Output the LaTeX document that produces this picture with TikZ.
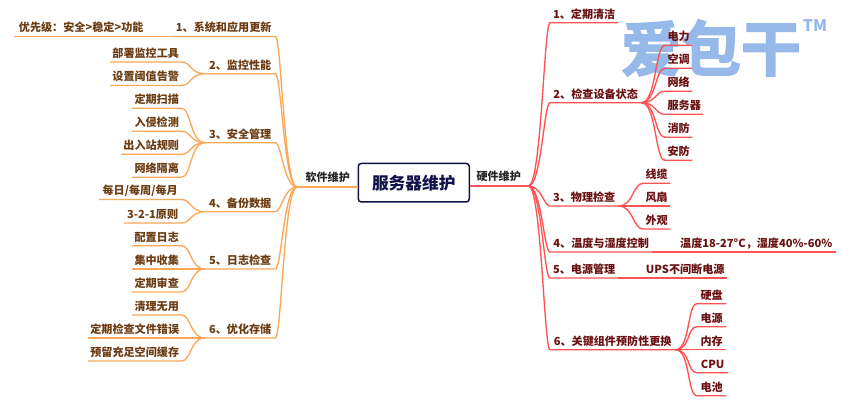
\documentclass[tikz,border=0pt]{standalone}
\usepackage{fontspec}
\setmainfont{Noto Sans CJK SC}
\newfontfamily\logofont[FakeBold=2.5]{Noto Sans CJK SC Bold}
\definecolor{orangeline}{HTML}{F9A858}
\definecolor{redline}{HTML}{FF5252}
\definecolor{browntext}{HTML}{6B3C12}
\definecolor{redtext}{HTML}{6A1010}
\definecolor{navy}{HTML}{10124A}
\definecolor{logoblue}{HTML}{97B9EA}
\tikzset{
  item/.style={inner sep=0pt,anchor=south west,minimum height=19pt,text height=11.5pt,text depth=1.5pt,font=\fontsize{11.1pt}{12pt}\selectfont\bfseries},
  softitem/.style={item,text=browntext},
  harditem/.style={item,text=redtext},
  mainitem/.style={item,text=black!85,minimum height=21pt},
  softline/.style={draw=orangeline,line width=1.35pt,line join=round},
  hardline/.style={draw=redline,line width=1.35pt,line join=round},
  rootbox/.style={draw=navy,line width=1.5pt,rounded corners=3pt,fill=white,text=navy,inner sep=0pt,
    minimum width=111pt,minimum height=38.5pt,font=\fontsize{16.7pt}{18pt}\selectfont\bfseries},
  logo/.style={text=logoblue,inner sep=0pt}
}
\newcommand{\itm}[6][softitem]{\node[#1,minimum width={(#4-#3)*1pt}] (#2) at (#3,#5) {#6};}
\newcommand{\softleaves}[2]{\foreach \c in {#2} \draw[softline] (#1.south west) .. controls +(-15,0) and +(10,0) .. (\c.south east) -- (\c.south west);}
\newcommand{\hardleaves}[2]{\foreach \c in {#2} \draw[hardline] (#1.south east) .. controls +(15,0) and +(-10,0) .. (\c.south west) -- (\c.south east);}
\begin{document}
\begin{tikzpicture}[x=1pt,y=-1pt]
\useasboundingbox (0,0) rectangle (850,400);
% watermark
\node[logo,font=\logofont\fontsize{60pt}{60pt}\selectfont] (wm) at (711,48) {爱包干};
\node[logo,font=\fontsize{16pt}{16pt}\selectfont\bfseries] (tm) at (815,26) {TM};
% root
\node[rootbox] (root) at (413.75,182.7) {服务器维护};
\itm[mainitem]{soft}{297}{358}{187}{软件维护}
\itm[mainitem]{hard}{469}{528}{186}{硬件维护}
\draw[softline] (root.west |- soft.south) -- (soft.south west);
\draw[hardline] (root.east |- hard.south) -- (hard.south east);
% software level 1
\itm{sa}{172}{275}{36.5}{1、系统和应用更新}
\itm{sb}{205}{275}{73.7}{2、监控性能}
\itm{sc}{205}{275}{142.7}{3、安全管理}
\itm{sd}{205}{275}{211.7}{4、备份数据}
\itm{se}{205}{275}{269}{5、日志检查}
\itm{sf}{205}{275}{338}{6、优化存储}
\foreach \c in {sa,sb,sc,sd,se,sf}
  \draw[softline] (soft.south west) .. controls +(-13,0) and +(6,0) .. (\c.south east) -- (\c.south west);
% software level 2
\itm{saa}{14}{148}{36.5}{优先级：安全>稳定>功能}
\draw[softline] (sa.south west) -- (saa.south east) -- (saa.south west);
\itm{sba}{110}{181}{62}{部署监控工具}
\itm{sbb}{110}{181}{85.5}{设置阈值告警}
\softleaves{sb}{sba,sbb}
\itm{sca}{132}{181}{108.3}{定期扫描}
\itm{scb}{132}{181}{131.3}{入侵检测}
\itm{scc}{121}{181}{154.3}{出入站规则}
\itm{scd}{132}{181}{177.3}{网络隔离}
\softleaves{sc}{sca,scb,scc,scd}
\itm{sda}{99}{181}{199.5}{每日/每周/每月}
\itm{sdb}{124}{181}{223}{3-2-1原则}
\softleaves{sd}{sda,sdb}
\itm{sea}{132}{181}{245.7}{配置日志}
\itm{seb}{132}{181}{269}{集中收集}
\itm{sec}{132}{181}{292}{定期审查}
\softleaves{se}{sea,seb,sec}
\itm{sfa}{132}{181}{315}{清理无用}
\itm{sfb}{88}{181}{338}{定期检查文件错误}
\itm{sfc}{88}{181}{361}{预留充足空间缓存}
\softleaves{sf}{sfa,sfb,sfc}
% hardware level 1
\itm[harditem]{ha}{550}{618}{22.7}{1、定期清洁}
\itm[harditem]{hb}{550}{641}{102.7}{2、检查设备状态}
\itm[harditem]{hc}{550}{618}{206}{3、物理检查}
\itm[harditem]{hd}{550}{652}{252}{4、温度与湿度控制}
\itm[harditem]{he}{550}{618}{278}{5、电源管理}
\itm[harditem]{hf}{550}{675}{349.7}{6、关键组件预防性更换}
\foreach \c in {ha,hb,hc,hd,he,hf}
  \draw[hardline] (hard.south east) .. controls +(13,0) and +(-6,0) .. (\c.south west) -- (\c.south east);
% hardware level 2
\itm[harditem]{hba}{665}{692}{45.3}{电力}
\itm[harditem]{hbb}{665}{692}{68.3}{空调}
\itm[harditem]{hbc}{665}{692}{91.3}{网络}
\itm[harditem]{hbd}{665}{703}{114.3}{服务器}
\itm[harditem]{hbe}{665}{692}{137.3}{消防}
\itm[harditem]{hbf}{665}{692}{160.3}{安防}
\hardleaves{hb}{hba,hbb,hbc,hbd,hbe,hbf}
\itm[harditem]{hca}{643}{670}{183.3}{线缆}
\itm[harditem]{hcb}{643}{670}{206}{风扇}
\itm[harditem]{hcc}{643}{670}{229}{外观}
\hardleaves{hc}{hca,hcb,hcc}
\itm[harditem]{hda}{676}{836}{252}{温度18-27°C，湿度40\%-60\%}
\draw[hardline] (hd.south east) -- (hda.south west) -- (hda.south east);
\itm[harditem]{hea}{643}{727}{278}{UPS不间断电源}
\draw[hardline] (he.south east) -- (hea.south west) -- (hea.south east);
\itm[harditem]{hfa}{697}{726}{303.7}{硬盘}
\itm[harditem]{hfb}{697}{726}{326.7}{电源}
\itm[harditem]{hfc}{697}{726}{349.7}{内存}
\itm[harditem]{hfd}{697}{728}{372.7}{CPU}
\itm[harditem]{hfe}{697}{726}{395.7}{电池}
\hardleaves{hf}{hfa,hfb,hfc,hfd,hfe}
\end{tikzpicture}
\end{document}
